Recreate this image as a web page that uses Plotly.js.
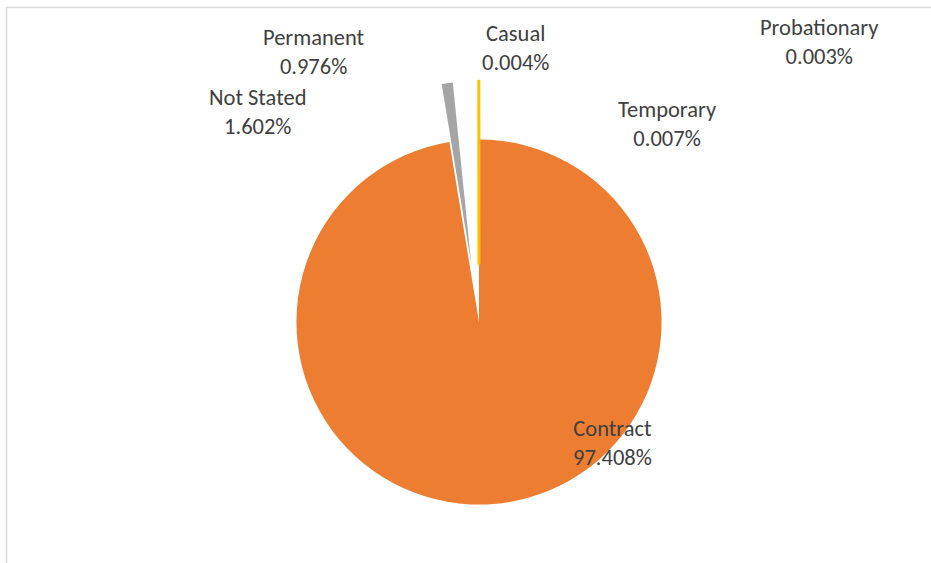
<!DOCTYPE html>
<html>
<head>
<meta charset="utf-8">
<script src="https://cdn.plot.ly/plotly-3.0.1.min.js"></script>
<style>
html,body{margin:0;padding:0;background:#fff;}
#chart{width:931px;height:563px;}
</style>
</head>
<body>
<div id="chart"></div>
<script>
// Data
var categories = ['Contract', 'Permanent', 'Not Stated', 'Casual', 'Temporary', 'Probationary'];
var shares = [97.408, 0.976, 1.602, 0.004, 0.007, 0.003];
var valueLabels = ['97.408%', '0.976%', '1.602%', '0.004%', '0.007%', '0.003%'];

// Styling
var sliceColors = ['#ED7D31', '#A5A5A5', '#FFFFFF', '#FFC000', '#5B9BD5', '#70AD47'];
var lineColors = ['#ED7D31', '#A5A5A5', '#FFFFFF', '#FFC000', '#5B9BD5', '#70AD47'];
var lineWidths = [0, 0, 0, 3, 0, 0];
var pulls = [0, 0.32, 0, 0.32, 0, 0];

// Label placements (paper coords)
var labelPos = {
  'Contract':     {x: 0.6574, y: 0.214},
  'Permanent':    {x: 0.3373, y: 0.9085},
  'Not Stated':   {x: 0.2771, y: 0.8011},
  'Casual':       {x: 0.5542, y: 0.9139},
  'Temporary':    {x: 0.7175, y: 0.7798},
  'Probationary': {x: 0.8797, y: 0.9254}
};

var fontFamily = 'Carlito, Calibri, Lato, "Open Sans", sans-serif';

var annotations = categories.map(function (c, i) {
  return {
    xref: 'paper', yref: 'paper',
    x: labelPos[c].x, y: labelPos[c].y,
    xanchor: 'center', yanchor: 'middle',
    text: c + '<br>' + valueLabels[i],
    showarrow: false,
    align: 'center',
    font: {family: fontFamily, size: 22.5, color: '#404040'}
  };
});

var trace = {
  type: 'pie',
  labels: categories,
  values: shares,
  sort: false,
  direction: 'clockwise',
  rotation: 0,
  pull: pulls,
  textinfo: 'none',
  hoverinfo: 'label+percent',
  marker: {colors: sliceColors, line: {color: lineColors, width: lineWidths}},
  domain: {x: [0.1145, 0.9145], y: [0, 0.856]},
  showlegend: false
};

var layout = {
  width: 931,
  height: 563,
  margin: {l: 0, r: 0, t: 0, b: 0},
  paper_bgcolor: '#FFFFFF',
  plot_bgcolor: '#FFFFFF',
  showlegend: false,
  annotations: annotations,
  shapes: [
    {type: 'line', xref: 'paper', yref: 'paper', x0: 6 / 931, x1: 1, y0: 1 - 7.5 / 563, y1: 1 - 7.5 / 563,
     line: {color: '#D9D9D9', width: 1.5}},
    {type: 'line', xref: 'paper', yref: 'paper', x0: 6.5 / 931, x1: 6.5 / 931, y0: 0, y1: 1 - 7 / 563,
     line: {color: '#D9D9D9', width: 1.5}}
  ]
};

Plotly.newPlot('chart', [trace], layout, {displayModeBar: false, staticPlot: true});
</script>
</body>
</html>
